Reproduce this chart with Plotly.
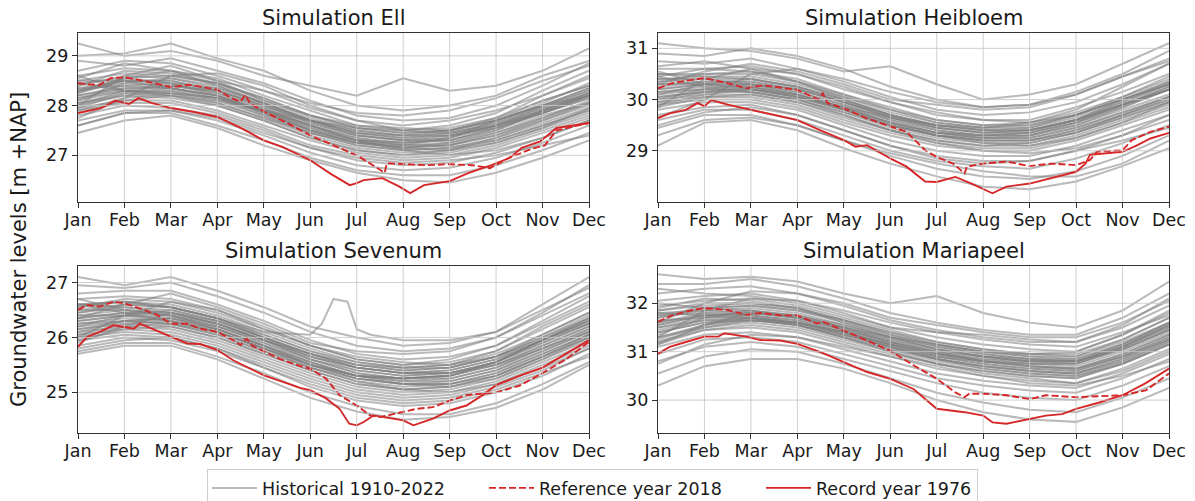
import plotly.graph_objects as go

MONTHS = ["Jan", "Feb", "Mar", "Apr", "May", "Jun", "Jul", "Aug", "Sep", "Oct", "Nov", "Dec"]
MONTH_POS = list(range(12))

# ---------------- Ell ----------------
ELL_HIST = [
    [29.25, 29.0, 29.1, 28.9, 28.6, 28.4, 28.2, 28.55, 28.3, 28.4, 28.7, 29.15],
    [29.0, 29.05, 29.25, 28.95, 28.7, 28.3, 28.0, 27.9, 28.0, 28.2, 28.6, 28.9],
    [28.9, 28.8, 28.95, 28.7, 28.45, 28.1, 27.8, 27.7, 27.75, 28.0, 28.4, 28.85],
    [28.7, 28.9, 28.85, 28.6, 28.3, 27.95, 27.7, 27.6, 27.7, 27.9, 28.2, 28.6],
    [28.6, 28.75, 28.7, 28.55, 28.2, 27.9, 27.6, 27.5, 27.55, 27.75, 28.1, 28.4],
    [28.5, 28.65, 28.6, 28.45, 28.15, 27.8, 27.55, 27.45, 27.5, 27.7, 28.0, 28.3],
    [28.4, 28.6, 28.55, 28.4, 28.05, 27.7, 27.45, 27.35, 27.45, 27.65, 27.95, 28.25],
    [28.35, 28.5, 28.5, 28.3, 28.0, 27.65, 27.4, 27.3, 27.4, 27.6, 27.9, 28.2],
    [28.3, 28.45, 28.4, 28.3, 27.95, 27.6, 27.35, 27.25, 27.3, 27.55, 27.85, 28.15],
    [28.2, 28.4, 28.45, 28.2, 27.9, 27.55, 27.3, 27.2, 27.25, 27.45, 27.8, 28.05],
    [28.15, 28.35, 28.35, 28.2, 27.85, 27.5, 27.25, 27.15, 27.2, 27.4, 27.7, 28.0],
    [28.1, 28.3, 28.3, 28.1, 27.8, 27.45, 27.2, 27.1, 27.15, 27.35, 27.65, 27.95],
    [28.05, 28.25, 28.2, 28.05, 27.75, 27.4, 27.15, 27.05, 27.1, 27.3, 27.6, 27.9],
    [28.0, 28.2, 28.15, 28.0, 27.7, 27.35, 27.1, 27.0, 27.05, 27.25, 27.55, 27.85],
    [27.95, 28.1, 28.1, 27.9, 27.6, 27.3, 27.05, 26.95, 27.0, 27.2, 27.5, 27.8],
    [27.9, 28.05, 28.05, 27.85, 27.55, 27.2, 27.0, 26.9, 26.95, 27.15, 27.45, 27.75],
    [27.8, 28.0, 27.95, 27.8, 27.5, 27.15, 26.9, 26.8, 26.85, 27.05, 27.35, 27.7],
    [27.7, 27.9, 27.9, 27.7, 27.4, 27.05, 26.8, 26.7, 26.75, 26.95, 27.25, 27.6],
    [27.6, 27.85, 27.85, 27.6, 27.3, 26.95, 26.7, 26.6, 26.6, 26.8, 27.1, 27.45],
    [27.45, 27.7, 27.8, 27.55, 27.2, 26.9, 26.65, 26.5, 26.45, 26.65, 26.95, 27.3],
    [28.6, 28.3, 28.2, 28.1, 27.9, 27.7, 27.55, 27.5, 27.6, 27.85, 28.3, 28.7],
    [28.0, 28.6, 28.8, 28.5, 28.1, 27.8, 27.6, 27.55, 27.5, 27.7, 28.0, 28.2],
    [28.45, 28.3, 28.25, 28.15, 27.9, 27.6, 27.3, 27.1, 27.0, 27.1, 27.35, 27.7],
    [27.75, 28.15, 28.6, 28.65, 28.4, 28.0, 27.7, 27.5, 27.45, 27.6, 27.85, 28.2],
    [28.25, 28.55, 28.7, 28.5, 28.3, 28.05, 27.85, 27.8, 27.9, 28.15, 28.5, 28.8],
    [27.6, 27.85, 27.9, 27.75, 27.45, 27.15, 26.95, 26.85, 26.9, 27.0, 27.2, 27.4],
    [28.3, 28.5, 28.35, 28.15, 27.8, 27.45, 27.25, 27.2, 27.35, 27.7, 28.1, 28.4],
    [28.55, 28.85, 28.7, 28.4, 28.05, 27.7, 27.45, 27.4, 27.5, 27.75, 28.2, 28.55],
    [28.25, 28.5, 28.5, 28.3, 28.0, 27.65, 27.4, 27.3, 27.35, 27.6, 27.95, 28.3],
    [28.1, 28.45, 28.55, 28.35, 28.05, 27.7, 27.45, 27.35, 27.4, 27.55, 27.85, 28.15],
    [28.35, 28.4, 28.35, 28.2, 27.9, 27.55, 27.3, 27.25, 27.35, 27.6, 28.0, 28.35],
    [28.0, 28.3, 28.4, 28.25, 27.95, 27.6, 27.35, 27.2, 27.2, 27.4, 27.75, 28.1],
    [28.45, 28.55, 28.45, 28.25, 27.9, 27.5, 27.25, 27.15, 27.2, 27.45, 27.75, 28.05],
    [27.9, 28.15, 28.25, 28.15, 27.85, 27.5, 27.25, 27.15, 27.25, 27.5, 27.9, 28.25],
    [28.15, 28.3, 28.25, 28.05, 27.75, 27.45, 27.2, 27.1, 27.15, 27.3, 27.6, 27.9],
    [28.3, 28.55, 28.6, 28.45, 28.15, 27.8, 27.55, 27.45, 27.5, 27.7, 28.0, 28.35],
    [28.05, 28.2, 28.3, 28.15, 27.9, 27.6, 27.3, 27.15, 27.1, 27.25, 27.55, 27.95],
    [28.4, 28.7, 28.65, 28.45, 28.1, 27.75, 27.5, 27.4, 27.45, 27.65, 28.05, 28.45],
    [27.95, 28.25, 28.35, 28.2, 27.85, 27.5, 27.3, 27.25, 27.3, 27.55, 27.9, 28.2],
    [28.2, 28.35, 28.4, 28.3, 28.0, 27.7, 27.5, 27.4, 27.4, 27.6, 27.9, 28.25],
    [27.85, 28.1, 28.2, 28.0, 27.7, 27.35, 27.1, 27.0, 27.1, 27.35, 27.7, 28.05],
    [28.5, 28.5, 28.45, 28.35, 28.05, 27.7, 27.4, 27.3, 27.3, 27.5, 27.85, 28.2],
]
ELL_2018_X = [0, 0.45, 0.7, 1.0, 1.5, 2.0, 2.4, 3.0, 3.3, 3.5, 3.6, 3.7, 4.0, 4.5, 5.0, 5.5, 6.0,
              6.35, 6.6, 6.65, 7.0, 7.5, 8.0, 8.5, 8.87, 9.3, 9.8, 10.05, 10.3, 10.65, 11.0]
ELL_2018_Y = [28.45, 28.41, 28.55, 28.57, 28.48, 28.37, 28.42, 28.32, 28.15, 28.08, 28.22, 28.05,
              27.88, 27.65, 27.4, 27.2, 27.0, 26.8, 26.65, 26.84, 26.82, 26.8, 26.82, 26.8, 26.74,
              26.96, 27.14, 27.2, 27.5, 27.57, 27.65]
ELL_1976_X = [0, 0.5, 0.8, 1.1, 1.3, 1.6, 2.0, 2.5, 3.0, 3.5, 4.0, 4.4, 5.0, 5.45, 5.85, 6.0, 6.15,
              6.55, 6.9, 7.15, 7.45, 8.0, 8.4, 8.9, 9.3, 9.55, 9.95, 10.3, 10.65, 11.0]
ELL_1976_Y = [27.85, 27.95, 28.1, 28.03, 28.15, 28.05, 27.95, 27.87, 27.77, 27.55, 27.3, 27.17,
              26.9, 26.62, 26.4, 26.44, 26.5, 26.54, 26.38, 26.24, 26.4, 26.48, 26.64, 26.8,
              26.95, 27.15, 27.28, 27.55, 27.6, 27.65]

# ---------------- Heibloem ----------------
HEI_HIST = [
    [31.1, 31.0, 30.95, 30.8, 30.55, 30.65, 30.3, 30.0, 30.1, 30.3, 30.7, 31.1],
    [30.9, 30.85, 31.0, 30.85, 30.6, 30.25, 30.0, 29.85, 29.9, 30.15, 30.5, 30.95],
    [30.75, 30.7, 30.8, 30.6, 30.35, 30.05, 29.8, 29.7, 29.75, 29.95, 30.3, 30.7],
    [30.6, 30.6, 30.65, 30.5, 30.2, 29.95, 29.7, 29.6, 29.6, 29.85, 30.15, 30.5],
    [30.5, 30.5, 30.55, 30.4, 30.1, 29.85, 29.6, 29.5, 29.55, 29.75, 30.05, 30.4],
    [30.4, 30.45, 30.45, 30.3, 30.05, 29.8, 29.55, 29.45, 29.45, 29.7, 30.0, 30.3],
    [30.35, 30.4, 30.4, 30.25, 30.0, 29.7, 29.5, 29.4, 29.4, 29.6, 29.9, 30.25],
    [30.3, 30.35, 30.35, 30.2, 29.95, 29.65, 29.45, 29.35, 29.35, 29.55, 29.85, 30.2],
    [30.2, 30.3, 30.3, 30.15, 29.9, 29.6, 29.4, 29.3, 29.3, 29.5, 29.8, 30.1],
    [30.15, 30.25, 30.25, 30.1, 29.85, 29.55, 29.35, 29.25, 29.25, 29.45, 29.75, 30.05],
    [30.1, 30.2, 30.2, 30.05, 29.8, 29.5, 29.3, 29.2, 29.2, 29.4, 29.7, 30.0],
    [30.05, 30.15, 30.15, 30.0, 29.75, 29.45, 29.25, 29.15, 29.15, 29.35, 29.65, 29.95],
    [30.0, 30.1, 30.1, 29.95, 29.7, 29.4, 29.2, 29.1, 29.1, 29.3, 29.6, 29.9],
    [29.95, 30.05, 30.05, 29.9, 29.6, 29.35, 29.15, 29.05, 29.05, 29.25, 29.55, 29.85],
    [29.9, 30.0, 30.0, 29.85, 29.55, 29.3, 29.1, 29.0, 29.0, 29.2, 29.5, 29.8],
    [29.8, 29.95, 29.95, 29.8, 29.5, 29.2, 29.0, 28.9, 28.9, 29.1, 29.4, 29.7],
    [29.7, 29.85, 29.9, 29.7, 29.4, 29.1, 28.9, 28.8, 28.8, 29.0, 29.3, 29.6],
    [29.6, 29.8, 29.8, 29.6, 29.3, 29.0, 28.8, 28.7, 28.65, 28.85, 29.15, 29.5],
    [29.45, 29.7, 29.7, 29.5, 29.2, 28.9, 28.65, 28.5, 28.45, 28.6, 28.9, 29.3],
    [29.1, 29.55, 29.6, 29.4, 29.05, 28.75, 28.5, 28.3, 28.25, 28.4, 28.7, 29.05],
    [29.3, 29.6, 29.65, 29.5, 29.2, 28.95, 28.75, 28.6, 28.5, 28.5, 28.75, 29.2],
    [30.55, 30.3, 30.2, 30.05, 29.85, 29.65, 29.5, 29.45, 29.55, 29.8, 30.25, 30.7],
    [29.85, 30.4, 30.6, 30.5, 30.25, 29.95, 29.75, 29.6, 29.55, 29.7, 30.0, 30.3],
    [30.45, 30.25, 30.15, 30.0, 29.7, 29.4, 29.15, 29.0, 28.95, 29.05, 29.3, 29.7],
    [29.65, 30.0, 30.5, 30.6, 30.4, 30.15, 29.95, 29.85, 29.9, 30.1, 30.45, 30.8],
    [30.3, 30.55, 30.7, 30.55, 30.3, 30.0, 29.9, 29.8, 29.85, 30.1, 30.45, 30.75],
    [30.65, 30.75, 30.6, 30.35, 30.0, 29.7, 29.45, 29.35, 29.4, 29.6, 30.0, 30.35],
    [29.5, 29.75, 29.85, 29.7, 29.4, 29.1, 28.85, 28.75, 28.8, 29.0, 29.2, 29.45],
    [30.25, 30.35, 30.35, 30.2, 29.95, 29.65, 29.45, 29.35, 29.4, 29.6, 29.9, 30.2],
    [30.1, 30.3, 30.4, 30.25, 30.0, 29.7, 29.5, 29.4, 29.45, 29.65, 29.95, 30.3],
    [30.3, 30.3, 30.25, 30.05, 29.8, 29.55, 29.35, 29.3, 29.35, 29.55, 29.9, 30.25],
    [30.0, 30.2, 30.3, 30.15, 29.9, 29.6, 29.35, 29.25, 29.25, 29.45, 29.75, 30.05],
    [30.4, 30.4, 30.3, 30.1, 29.8, 29.5, 29.3, 29.2, 29.2, 29.4, 29.7, 30.0],
    [29.95, 30.15, 30.2, 30.1, 29.85, 29.55, 29.35, 29.3, 29.35, 29.6, 29.95, 30.3],
    [30.15, 30.2, 30.15, 30.0, 29.75, 29.5, 29.3, 29.2, 29.2, 29.35, 29.65, 29.95],
    [30.35, 30.5, 30.5, 30.35, 30.1, 29.8, 29.6, 29.5, 29.5, 29.7, 30.0, 30.35],
    [30.05, 30.15, 30.25, 30.1, 29.85, 29.55, 29.3, 29.15, 29.1, 29.25, 29.55, 29.95],
    [30.45, 30.6, 30.55, 30.35, 30.05, 29.75, 29.55, 29.45, 29.5, 29.7, 30.05, 30.45],
    [29.9, 30.1, 30.2, 30.05, 29.8, 29.5, 29.3, 29.25, 29.3, 29.55, 29.9, 30.2],
    [30.2, 30.3, 30.3, 30.2, 29.95, 29.7, 29.5, 29.4, 29.4, 29.6, 29.9, 30.2],
    [29.85, 30.05, 30.1, 29.95, 29.65, 29.4, 29.2, 29.1, 29.15, 29.35, 29.7, 30.05],
    [30.5, 30.45, 30.4, 30.25, 29.95, 29.65, 29.4, 29.3, 29.3, 29.5, 29.85, 30.2],
]
HEI_2018_X = [0, 0.3, 0.7, 1.0, 1.5, 1.9, 2.25, 3.0, 3.45, 3.55, 3.65, 4.0, 4.5, 5.0, 5.35, 5.75,
              6.0, 6.35, 6.6, 6.65, 7.0, 7.5, 8.0, 8.45, 9.0, 9.3, 9.45, 10.0, 10.2, 10.6, 11.0]
HEI_2018_Y = [30.22, 30.32, 30.38, 30.42, 30.32, 30.22, 30.28, 30.19, 30.0, 30.12, 29.93, 29.83,
              29.63, 29.47, 29.37, 29.01, 28.88, 28.75, 28.56, 28.69, 28.75, 28.79, 28.7, 28.75,
              28.72, 28.82, 28.98, 29.01, 29.21, 29.37, 29.47]
HEI_1976_X = [0, 0.25, 0.6, 0.85, 1.0, 1.15, 1.5, 2.0, 2.5, 3.0, 3.5, 4.0, 4.25, 4.5, 5.0, 5.35,
              5.75, 6.0, 6.4, 6.75, 7.2, 7.5, 8.0, 8.45, 9.0, 9.2, 9.3, 10.0, 10.3, 10.6, 11.0]
HEI_1976_Y = [29.64, 29.73, 29.8, 29.93, 29.87, 29.99, 29.9, 29.8, 29.7, 29.6, 29.4, 29.21, 29.08,
              29.11, 28.85, 28.69, 28.4, 28.39, 28.49, 28.36, 28.17, 28.3, 28.36, 28.46, 28.59,
              28.75, 28.92, 28.98, 29.1, 29.24, 29.35]

# ---------------- Sevenum ----------------
SEV_HIST = [
    [27.1, 26.95, 27.1, 26.85, 26.55, 26.2, 26.0, 25.85, 25.9, 26.1, 26.6, 27.1],
    [26.95, 26.9, 27.0, 26.75, 26.45, 26.1, 25.85, 25.75, 25.8, 26.0, 26.45, 26.95],
    [26.8, 26.85, 26.85, 26.6, 26.3, 25.95, 25.7, 25.6, 25.65, 25.85, 26.3, 26.75],
    [26.7, 26.75, 26.7, 26.5, 26.2, 25.85, 25.6, 25.5, 25.55, 25.75, 26.15, 26.55],
    [26.6, 26.65, 26.6, 26.4, 26.1, 25.8, 25.55, 25.45, 25.5, 25.7, 26.05, 26.45],
    [26.5, 26.6, 26.55, 26.35, 26.05, 25.75, 25.5, 25.4, 25.45, 25.65, 26.0, 26.35],
    [26.45, 26.55, 26.5, 26.3, 26.0, 25.7, 25.45, 25.35, 25.4, 25.6, 25.95, 26.3],
    [26.4, 26.5, 26.45, 26.25, 25.95, 25.65, 25.4, 25.3, 25.35, 25.55, 25.9, 26.25],
    [26.35, 26.45, 26.4, 26.2, 25.9, 25.6, 25.35, 25.25, 25.3, 25.5, 25.85, 26.2],
    [26.3, 26.4, 26.35, 26.15, 25.85, 25.55, 25.3, 25.2, 25.25, 25.45, 25.8, 26.15],
    [26.25, 26.35, 26.3, 26.1, 25.8, 25.5, 25.25, 25.15, 25.2, 25.4, 25.75, 26.1],
    [26.2, 26.3, 26.25, 26.05, 25.75, 25.45, 25.2, 25.1, 25.15, 25.35, 25.7, 26.05],
    [26.15, 26.25, 26.2, 26.0, 25.7, 25.4, 25.15, 25.05, 25.1, 25.3, 25.65, 26.0],
    [26.1, 26.2, 26.15, 25.95, 25.65, 25.35, 25.1, 25.0, 25.05, 25.25, 25.6, 25.95],
    [26.05, 26.15, 26.1, 25.9, 25.6, 25.3, 25.05, 24.95, 25.0, 25.2, 25.55, 25.9],
    [26.0, 26.1, 26.05, 25.85, 25.55, 25.25, 25.0, 24.9, 24.95, 25.15, 25.5, 25.85],
    [25.95, 26.05, 26.0, 25.8, 25.5, 25.2, 24.95, 24.85, 24.9, 25.1, 25.4, 25.8],
    [25.85, 26.0, 25.95, 25.75, 25.45, 25.1, 24.85, 24.75, 24.8, 25.0, 25.3, 25.7],
    [25.75, 25.9, 25.9, 25.65, 25.35, 25.0, 24.75, 24.6, 24.6, 24.8, 25.15, 25.55],
    [25.7, 25.85, 25.85, 25.6, 25.25, 24.9, 24.65, 24.5, 24.55, 24.72, 25.05, 25.5],
    [26.7, 26.5, 26.4, 26.2, 25.95, 25.7, 25.5, 25.45, 25.5, 25.75, 26.2, 26.6],
    [26.0, 26.4, 26.65, 26.5, 26.15, 25.85, 25.65, 25.55, 25.5, 25.65, 25.95, 26.25],
    [26.6, 26.45, 26.3, 26.1, 25.8, 25.45, 25.2, 25.05, 25.0, 25.15, 25.45, 25.8],
    [26.35, 26.6, 26.8, 26.55, 26.25, 25.9, 25.75, 25.7, 25.75, 26.0, 26.4, 26.8],
    [25.9, 26.2, 26.45, 26.3, 26.0, 25.7, 25.45, 25.35, 25.35, 25.5, 25.8, 26.1],
    [26.55, 26.7, 26.65, 26.45, 26.15, 25.85, 25.6, 25.5, 25.6, 25.85, 26.25, 26.65],
    [25.8, 25.95, 26.0, 25.8, 25.45, 25.15, 24.9, 24.8, 24.85, 25.05, 25.35, 25.65],
    [26.35, 26.45, 26.45, 26.25, 25.95, 25.6, 25.4, 25.3, 25.35, 25.55, 25.95, 26.3],
    [26.2, 26.4, 26.5, 26.3, 26.0, 25.65, 25.45, 25.35, 25.4, 25.6, 25.95, 26.3],
    [26.4, 26.4, 26.3, 26.1, 25.8, 25.5, 25.3, 25.25, 25.3, 25.55, 25.95, 26.35],
    [26.1, 26.3, 26.35, 26.2, 25.9, 25.55, 25.3, 25.2, 25.2, 25.4, 25.75, 26.1],
    [26.5, 26.5, 26.4, 26.15, 25.85, 25.5, 25.25, 25.15, 25.15, 25.35, 25.7, 26.05],
    [26.05, 26.25, 26.3, 26.15, 25.85, 25.5, 25.3, 25.25, 25.3, 25.55, 25.95, 26.35],
    [26.25, 26.3, 26.25, 26.05, 25.75, 25.45, 25.25, 25.15, 25.15, 25.3, 25.65, 26.0],
    [26.45, 26.6, 26.55, 26.35, 26.05, 25.75, 25.55, 25.45, 25.45, 25.65, 26.0, 26.4],
    [26.15, 26.3, 26.35, 26.15, 25.85, 25.55, 25.3, 25.15, 25.1, 25.25, 25.6, 26.0],
    [26.55, 26.65, 26.55, 26.35, 26.0, 25.7, 25.5, 25.4, 25.45, 25.65, 26.05, 26.45],
    [26.0, 26.2, 26.25, 26.1, 25.8, 25.5, 25.3, 25.25, 25.3, 25.5, 25.85, 26.2],
    [26.3, 26.4, 26.4, 26.25, 25.95, 25.65, 25.45, 25.35, 25.35, 25.55, 25.9, 26.25],
    [25.95, 26.15, 26.2, 26.0, 25.7, 25.4, 25.15, 25.05, 25.1, 25.3, 25.65, 26.05],
    [26.6, 26.55, 26.45, 26.25, 25.95, 25.6, 25.35, 25.25, 25.25, 25.45, 25.8, 26.15],
]
SEV_BUMP_X = [0, 1, 2, 3, 4, 5.0, 5.25, 5.5, 5.8, 6.0, 6.3, 7, 8, 9, 10, 11]
SEV_BUMP_Y = [26.6, 26.65, 26.55, 26.35, 26.1, 26.05, 26.25, 26.7, 26.65, 26.15, 26.05, 25.95,
              25.95, 26.1, 26.5, 26.9]
SEV_2018_X = [0, 0.2, 0.47, 0.76, 1.0, 1.33, 1.7, 2.0, 2.34, 2.63, 3.0, 3.34, 3.5, 3.63, 3.75, 4.0,
              4.34, 4.78, 5.0, 5.34, 5.63, 6.0, 6.29, 6.5, 6.79, 7.0, 7.29, 7.64, 8.0, 8.36, 8.71,
              9.0, 9.5, 10.0, 10.5, 11.0]
SEV_2018_Y = [26.5, 26.59, 26.56, 26.65, 26.62, 26.53, 26.41, 26.25, 26.25, 26.16, 26.1, 25.95,
              25.86, 25.98, 25.85, 25.75, 25.61, 25.48, 25.43, 25.25, 24.95, 24.76, 24.58, 24.55,
              24.61, 24.64, 24.7, 24.73, 24.85, 24.95, 24.97, 25.0, 25.12, 25.35, 25.6, 25.92]
SEV_1976_X = [0, 0.2, 0.47, 0.76, 1.0, 1.2, 1.33, 2.0, 2.35, 2.63, 3.0, 3.35, 3.71, 4.0, 4.41, 4.78,
              5.0, 5.34, 5.63, 5.84, 6.0, 6.15, 6.36, 6.6, 7.0, 7.22, 7.64, 8.0, 8.36, 8.71, 9.0,
              9.5, 10.0, 10.5, 11.0]
SEV_1976_Y = [25.83, 26.01, 26.1, 26.22, 26.19, 26.16, 26.25, 26.01, 25.89, 25.88, 25.77, 25.58,
              25.43, 25.31, 25.19, 25.08, 25.04, 24.89, 24.7, 24.43, 24.4, 24.46, 24.58, 24.55,
              24.49, 24.4, 24.52, 24.67, 24.76, 24.95, 25.13, 25.3, 25.45, 25.7, 25.95]

# ---------------- Mariapeel ----------------
MAR_HIST = [
    [32.6, 32.5, 32.55, 32.45, 32.2, 32.0, 32.15, 31.8, 31.6, 31.5, 31.85, 32.45],
    [32.4, 32.4, 32.5, 32.35, 32.1, 31.8, 31.6, 31.45, 31.35, 31.35, 31.7, 32.2],
    [32.2, 32.3, 32.35, 32.2, 31.95, 31.65, 31.45, 31.3, 31.2, 31.2, 31.5, 31.95],
    [32.05, 32.15, 32.2, 32.05, 31.8, 31.5, 31.3, 31.15, 31.05, 31.0, 31.35, 31.8],
    [31.95, 32.05, 32.1, 31.95, 31.7, 31.45, 31.2, 31.05, 30.95, 30.95, 31.25, 31.7],
    [31.85, 31.95, 32.0, 31.9, 31.65, 31.4, 31.15, 31.0, 30.9, 30.85, 31.15, 31.6],
    [31.75, 31.9, 31.95, 31.85, 31.6, 31.35, 31.1, 30.95, 30.85, 30.8, 31.1, 31.5],
    [31.7, 31.85, 31.9, 31.8, 31.55, 31.3, 31.05, 30.9, 30.8, 30.75, 31.05, 31.45],
    [31.6, 31.8, 31.85, 31.75, 31.5, 31.25, 31.0, 30.85, 30.75, 30.7, 31.0, 31.4],
    [31.55, 31.75, 31.8, 31.7, 31.45, 31.2, 30.95, 30.8, 30.7, 30.65, 30.95, 31.35],
    [31.5, 31.7, 31.75, 31.65, 31.4, 31.15, 30.9, 30.75, 30.65, 30.6, 30.9, 31.3],
    [31.45, 31.65, 31.7, 31.6, 31.35, 31.1, 30.85, 30.7, 30.6, 30.55, 30.85, 31.25],
    [31.4, 31.6, 31.65, 31.55, 31.3, 31.05, 30.8, 30.65, 30.55, 30.5, 30.8, 31.2],
    [31.3, 31.5, 31.6, 31.5, 31.25, 31.0, 30.75, 30.6, 30.5, 30.45, 30.75, 31.15],
    [31.2, 31.45, 31.5, 31.4, 31.15, 30.9, 30.65, 30.5, 30.4, 30.35, 30.65, 31.05],
    [31.1, 31.35, 31.4, 31.3, 31.05, 30.8, 30.55, 30.4, 30.3, 30.25, 30.55, 30.95],
    [30.95, 31.25, 31.3, 31.2, 30.95, 30.7, 30.45, 30.3, 30.2, 30.15, 30.45, 30.85],
    [30.8, 31.1, 31.2, 31.1, 30.85, 30.6, 30.35, 30.15, 30.05, 30.0, 30.3, 30.7],
    [30.55, 30.9, 31.05, 31.0, 30.75, 30.45, 30.15, 29.95, 29.8, 29.75, 30.05, 30.45],
    [30.3, 30.7, 30.85, 30.85, 30.65, 30.35, 30.0, 29.75, 29.6, 29.55, 29.85, 30.25],
    [32.0, 31.9, 31.85, 31.7, 31.5, 31.3, 31.15, 31.0, 30.95, 31.0, 31.35, 31.85],
    [31.3, 31.85, 32.1, 32.05, 31.85, 31.6, 31.4, 31.25, 31.15, 31.1, 31.4, 31.75],
    [31.8, 31.75, 31.7, 31.55, 31.3, 31.0, 30.75, 30.55, 30.45, 30.35, 30.6, 31.0],
    [31.6, 32.0, 32.25, 32.2, 32.0, 31.7, 31.55, 31.4, 31.3, 31.3, 31.6, 32.05],
    [31.15, 31.55, 31.8, 31.75, 31.5, 31.2, 31.0, 30.8, 30.7, 30.65, 30.9, 31.25],
    [32.3, 32.2, 32.15, 32.0, 31.75, 31.5, 31.4, 31.35, 31.25, 31.2, 31.55, 32.1],
    [30.75, 31.15, 31.35, 31.3, 31.1, 30.9, 30.7, 30.5, 30.35, 30.3, 30.5, 30.8],
    [31.9, 32.1, 32.05, 31.9, 31.6, 31.3, 31.05, 30.9, 30.8, 30.8, 31.1, 31.55],
    [31.55, 31.75, 31.8, 31.7, 31.5, 31.25, 31.05, 30.9, 30.8, 30.8, 31.1, 31.5],
    [31.35, 31.7, 31.85, 31.75, 31.55, 31.3, 31.1, 30.95, 30.85, 30.8, 31.05, 31.45],
    [31.65, 31.7, 31.7, 31.6, 31.4, 31.15, 30.95, 30.8, 30.75, 30.75, 31.1, 31.55],
    [31.25, 31.55, 31.7, 31.6, 31.4, 31.15, 30.9, 30.75, 30.65, 30.6, 30.9, 31.3],
    [31.75, 31.8, 31.75, 31.6, 31.35, 31.1, 30.85, 30.7, 30.6, 30.55, 30.85, 31.25],
    [31.2, 31.5, 31.65, 31.6, 31.4, 31.15, 30.95, 30.85, 30.8, 30.8, 31.15, 31.6],
    [31.5, 31.65, 31.65, 31.55, 31.3, 31.05, 30.85, 30.7, 30.6, 30.55, 30.8, 31.2],
    [31.7, 31.9, 31.95, 31.85, 31.65, 31.4, 31.2, 31.05, 30.95, 30.9, 31.2, 31.6],
    [31.4, 31.6, 31.7, 31.6, 31.4, 31.1, 30.85, 30.65, 30.55, 30.5, 30.75, 31.15],
    [31.85, 32.0, 32.0, 31.9, 31.65, 31.35, 31.15, 31.0, 30.9, 30.9, 31.25, 31.7],
    [31.3, 31.55, 31.65, 31.55, 31.35, 31.1, 30.9, 30.8, 30.75, 30.75, 31.05, 31.45],
    [31.6, 31.75, 31.75, 31.65, 31.45, 31.2, 31.0, 30.9, 30.85, 30.85, 31.15, 31.55],
    [31.15, 31.45, 31.55, 31.45, 31.2, 30.95, 30.75, 30.6, 30.5, 30.45, 30.75, 31.15],
    [31.8, 31.85, 31.8, 31.7, 31.45, 31.2, 30.95, 30.8, 30.7, 30.65, 30.95, 31.35],
]
MAR_2018_X = [0, 0.33, 0.75, 1.0, 1.5, 1.9, 2.2, 2.63, 3.0, 3.42, 3.55, 4.0, 4.5, 5.0, 5.5, 6.0,
              6.4, 6.6, 6.7, 7.0, 7.5, 8.0, 8.35, 9.0, 9.5, 10.0, 10.5, 10.8, 11.0]
MAR_2018_Y = [31.62, 31.76, 31.86, 31.9, 31.86, 31.76, 31.8, 31.75, 31.75, 31.58, 31.62, 31.44,
              31.23, 31.02, 30.72, 30.44, 30.16, 30.06, 30.13, 30.13, 30.1, 30.02, 30.1, 30.06,
              30.08, 30.1, 30.2, 30.4, 30.55]
MAR_1976_X = [0, 0.25, 0.6, 1.0, 1.3, 1.43, 1.9, 2.2, 2.63, 3.0, 3.5, 4.0, 4.5, 5.0, 5.5, 6.0,
              6.35, 6.6, 7.0, 7.2, 7.5, 8.0, 8.35, 8.7, 9.0, 9.5, 10.0, 10.5, 11.0]
MAR_1976_Y = [30.96, 31.1, 31.2, 31.31, 31.31, 31.38, 31.31, 31.24, 31.23, 31.16, 30.99, 30.78,
              30.58, 30.44, 30.23, 29.82, 29.78, 29.75, 29.68, 29.54, 29.51, 29.61, 29.68, 29.71,
              29.82, 29.95, 30.1, 30.35, 30.65]

TITLES = ["Simulation Ell", "Simulation Heibloem", "Simulation Sevenum", "Simulation Mariapeel"]
Y_TICKS = [[27, 28, 29], [29, 30, 31], [25, 26, 27], [30, 31, 32]]
Y_RANGES = [[26.06, 29.46], [28.0, 31.30], [24.26, 27.30], [29.32, 32.77]]
LEGEND_NAMES = ["Historical 1910-2022", "Reference year 2018", "Record year 1976"]

# ---------------- layout geometry (pixels) ----------------
W, H = 1195, 501
COLS_PX = [(78, 589), (658, 1169)]
ROWS_PX = [(33, 202), (266, 433)]
FONT = "DejaVu Sans"
GREY = "rgba(128,128,128,0.55)"
RED = "#d62728"

panels = [
    dict(hist=ELL_HIST, extra=[], r18=(ELL_2018_X, ELL_2018_Y), r76=(ELL_1976_X, ELL_1976_Y)),
    dict(hist=HEI_HIST, extra=[], r18=(HEI_2018_X, HEI_2018_Y), r76=(HEI_1976_X, HEI_1976_Y)),
    dict(hist=SEV_HIST, extra=[(SEV_BUMP_X, SEV_BUMP_Y)], r18=(SEV_2018_X, SEV_2018_Y),
         r76=(SEV_1976_X, SEV_1976_Y)),
    dict(hist=MAR_HIST, extra=[], r18=(MAR_2018_X, MAR_2018_Y), r76=(MAR_1976_X, MAR_1976_Y)),
]

fig = go.Figure()
layout = dict(
    width=W, height=H, margin=dict(l=0, r=0, t=0, b=0, autoexpand=False),
    paper_bgcolor="white", plot_bgcolor="white", hovermode=False,
    font=dict(family=FONT, size=17, color="#1a1a1a"),
)
shapes = []
annotations = []

for i, p in enumerate(panels):
    row, col = divmod(i, 2)
    sfx = "" if i == 0 else str(i + 1)
    xa, ya = "x" + sfx, "y" + sfx
    x0, x1 = COLS_PX[col]
    y0, y1 = ROWS_PX[row]
    layout["xaxis" + sfx] = dict(
        domain=[x0 / W, x1 / W], range=[0, 11], anchor=ya,
        tickvals=MONTH_POS, ticktext=MONTHS, showgrid=False, zeroline=False,
        showline=True, mirror=True, linecolor="#333333", linewidth=1.2,
        ticks="outside", ticklen=5, tickwidth=1.2, tickcolor="#333333",
        ticklabelstandoff=-3,
        tickfont=dict(family=FONT, size=17.5, color="#1a1a1a"),
    )
    layout["yaxis" + sfx] = dict(
        domain=[1 - y1 / H, 1 - y0 / H], range=Y_RANGES[i], anchor=xa,
        tickvals=Y_TICKS[i], showgrid=False, zeroline=False,
        showline=True, mirror=True, linecolor="#333333", linewidth=1.2,
        ticks="outside", ticklen=5, tickwidth=1.2, tickcolor="#333333",
        tickfont=dict(family=FONT, size=17.5, color="#1a1a1a"),
    )
    first = (i == 0)
    for k, yv in enumerate(p["hist"]):
        fig.add_trace(go.Scatter(
            x=MONTH_POS, y=yv, mode="lines", xaxis=xa, yaxis=ya,
            line=dict(color=GREY, width=2.0), name=LEGEND_NAMES[0],
            legendgroup="hist", showlegend=(first and k == 0), legendwidth=217,
        ))
    for xv, yv in p["extra"]:
        fig.add_trace(go.Scatter(
            x=xv, y=yv, mode="lines", xaxis=xa, yaxis=ya,
            line=dict(color=GREY, width=2.0), name=LEGEND_NAMES[0],
            legendgroup="hist", showlegend=False,
        ))
    fig.add_trace(go.Scatter(
        x=p["r18"][0], y=p["r18"][1], mode="lines", xaxis=xa, yaxis=ya,
        line=dict(color=RED, width=1.9, dash="7px,3px"), name=LEGEND_NAMES[1],
        legendgroup="r18", showlegend=first, legendwidth=217,
    ))
    fig.add_trace(go.Scatter(
        x=p["r76"][0], y=p["r76"][1], mode="lines", xaxis=xa, yaxis=ya,
        line=dict(color=RED, width=1.9), name=LEGEND_NAMES[2],
        legendgroup="r76", showlegend=first,
    ))
    # grid lines drawn above the traces (as in the reference)
    for m in MONTH_POS[1:-1]:
        shapes.append(dict(type="line", xref=xa, yref=ya + " domain", x0=m, x1=m, y0=0, y1=1,
                           line=dict(color="rgba(200,200,200,0.85)", width=1), layer="above"))
    for t in Y_TICKS[i]:
        shapes.append(dict(type="line", xref=xa + " domain", yref=ya, x0=0, x1=1, y0=t, y1=t,
                           line=dict(color="rgba(200,200,200,0.85)", width=1), layer="above"))
    annotations.append(dict(
        text=TITLES[i], xref="paper", yref="paper", x=(x0 + x1) / 2 / W,
        y=1 - (y0 - 15) / H, xanchor="center", yanchor="middle", showarrow=False,
        font=dict(family=FONT, size=21, color="#1a1a1a"),
    ))

annotations.append(dict(
    text="Groundwater levels [m +NAP]", xref="paper", yref="paper", x=19 / W, y=1 - 250 / H,
    xanchor="center", yanchor="middle", textangle=-90, showarrow=False,
    font=dict(family=FONT, size=21, color="#1a1a1a"),
))

layout["shapes"] = shapes
layout["annotations"] = annotations
layout["legend"] = dict(
    orientation="h", x=207 / W, xanchor="left", y=1 - 469 / H, yanchor="top",
    bordercolor="#cccccc", borderwidth=1, bgcolor="white",
    font=dict(family=FONT, size=17.5, color="#1a1a1a"), itemwidth=45,
)
fig.update_layout(**layout)
fig.write_html("out.html")
